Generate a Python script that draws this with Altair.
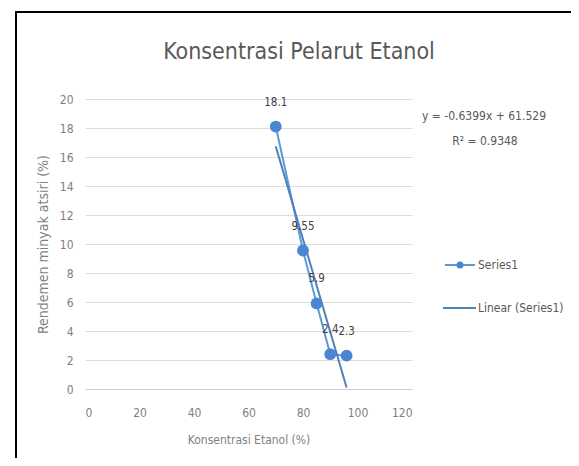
import altair as alt
import pandas as pd

# ---- data ----
x_vals = [70, 80, 85, 90, 96]
y_vals = [18.1, 9.55, 5.9, 2.4, 2.3]
point_labels = ["18.1", "9.55", "5.9", "2.4", "2.3"]
x_ticks = [0, 20, 40, 60, 80, 100, 120]
y_ticks = [0, 2, 4, 6, 8, 10, 12, 14, 16, 18, 20]
chart_title = "Konsentrasi Pelarut Etanol"
x_title = "Konsentrasi Etanol (%)"
y_title = "Rendemen minyak atsiri (%)"
legend_names = ["Series1", "Linear (Series1)"]
equation_lines = ["y = -0.6399x + 61.529", "R² = 0.9348"]
trend_extent = [70, 96]

df = pd.DataFrame({"x": x_vals, "y": y_vals, "label": point_labels})
dummy = pd.DataFrame({"d": [0]})

W, H = 327, 290
FONT = "DejaVu Sans Condensed, Lato, sans-serif"
SERIES_COL = "#5B9BD5"
POINT_COL = "#4A86D4"
TREND_COL = "#4F81BD"
TXT = "#7F7F7F"

xs = alt.Scale(domain=[0, 120], nice=False, zero=False)
ys = alt.Scale(domain=[0, 20], nice=False, zero=False)

x_enc = alt.X(
    "x:Q", scale=xs,
    axis=alt.Axis(values=x_ticks, title=x_title, grid=False, ticks=False,
                  domain=True, domainColor="#D0D0D0", labelPadding=18,
                  titlePadding=16, labelFont=FONT, labelFontSize=12,
                  labelColor=TXT, titleFont=FONT, titleFontSize=12,
                  titleColor=TXT, titleFontWeight="normal", labelOverlap=False))
y_enc = alt.Y(
    "y:Q", scale=ys,
    axis=alt.Axis(values=y_ticks, title=y_title, grid=True, gridColor="#DDDDDD",
                  ticks=False, domain=False, labelPadding=12, titlePadding=9,
                  labelFont=FONT, labelFontSize=12, labelColor=TXT,
                  titleFont=FONT, titleFontSize=14, titleColor=TXT,
                  titleFontWeight="normal", labelOverlap=False, tickCount=11))

base = alt.Chart(df)

series_line = base.mark_line(color=SERIES_COL, strokeWidth=2).encode(x=x_enc, y=y_enc)
trend = base.transform_regression("x", "y", extent=trend_extent).mark_line(
    color=TREND_COL, strokeWidth=2).encode(x=x_enc, y=y_enc)
points = base.mark_point(filled=True, size=140, color=POINT_COL, opacity=1,
                         shape="circle").encode(x=x_enc, y=y_enc)
labels = base.mark_text(dy=-24, font=FONT, fontSize=11.5, color="#404040").encode(
    x=x_enc, y=y_enc, text="label:N")

deco = alt.Chart(dummy)
title_txt = deco.mark_text(font=FONT, fontSize=23, color="#595959", baseline="middle",
                           align="center").encode(
    x=alt.value(214), y=alt.value(-47), text=alt.value(chart_title))

eq1 = deco.mark_text(font=FONT, fontSize=12, color="#595959", align="center",
                     baseline="middle").encode(x=alt.value(399), y=alt.value(17),
                                               text=alt.value(equation_lines[0]))
eq2 = deco.mark_text(font=FONT, fontSize=12, color="#595959", align="center",
                     baseline="middle").encode(x=alt.value(400), y=alt.value(42),
                                               text=alt.value(equation_lines[1]))

leg1_line = deco.mark_rule(color=SERIES_COL, strokeWidth=2).encode(
    x=alt.value(360), x2=alt.value(390), y=alt.value(166))
leg1_dot = deco.mark_point(filled=True, size=50, color=POINT_COL, opacity=1).encode(
    x=alt.value(375), y=alt.value(166))
leg1_txt = deco.mark_text(font=FONT, fontSize=12, color="#595959", align="left",
                          baseline="middle").encode(x=alt.value(393), y=alt.value(166),
                                                    text=alt.value(legend_names[0]))
leg2_line = deco.mark_rule(color=TREND_COL, strokeWidth=2).encode(
    x=alt.value(358), x2=alt.value(391), y=alt.value(209))
leg2_txt = deco.mark_text(font=FONT, fontSize=12, color="#595959", align="left",
                          baseline="middle").encode(x=alt.value(393), y=alt.value(209),
                                                    text=alt.value(legend_names[1]))

frame_left = deco.mark_rule(color="black", strokeWidth=2).encode(
    x=alt.value(-69), y=alt.value(-87), y2=alt.value(360))
frame_top = deco.mark_rule(color="black", strokeWidth=2).encode(
    x=alt.value(-70), x2=alt.value(490), y=alt.value(-87))

chart = alt.layer(
    series_line, trend, points, labels, title_txt, eq1, eq2,
    leg1_line, leg1_dot, leg1_txt, leg2_line, leg2_txt, frame_left, frame_top
).properties(
    width=W, height=H, autosize="none",
    padding={"left": 77, "top": 91, "right": 159, "bottom": 69},
    background="white",
).configure_view(stroke=None)

chart.save("out.html", embed_options={"renderer": "svg", "actions": False})
